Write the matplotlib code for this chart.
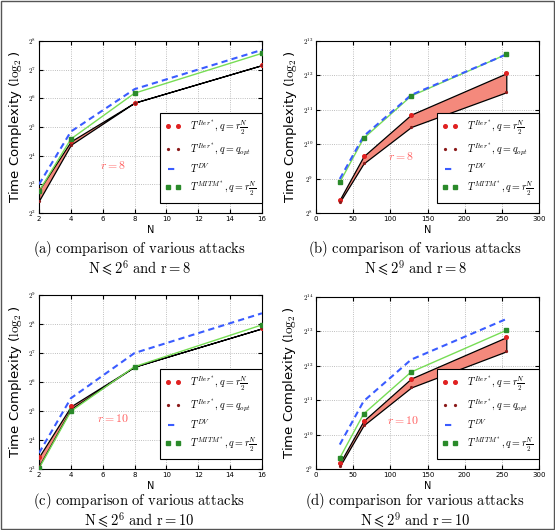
import numpy as np
import matplotlib
matplotlib.use("Agg")
from matplotlib import pyplot as plt
from matplotlib.patches import Rectangle

plt.rcParams['mathtext.fontset'] = 'cm'

# x values (N)
n_small = [2, 4, 8, 16]
n_large = [32, 64, 128, 256]

# (a) N <= 2^6, r = 8   (values are log2 of time)
a_iter_half = [2.80, 4.50, 5.85, 7.16]
a_iter_opt = [2.43, 4.38, 5.85, 7.16]
a_dv = [3.00, 4.84, 6.32, 7.69]
a_mitm = [2.76, 4.58, 6.18, 7.57]

# (b) N <= 2^9, r = 8
b_iter_half = [8.39, 9.65, 10.86, 12.06]
b_iter_opt = [8.32, 9.44, 10.50, 11.51]
b_dv = [8.99, 10.23, 11.43, 12.61]
b_mitm = [8.89, 10.17, 11.40, 12.61]

# (c) N <= 2^6, r = 10
c_iter_half = [3.42, 5.16, 6.53, 7.85]
c_iter_opt = [3.10, 5.07, 6.53, 7.85]
c_dv = [3.55, 5.44, 7.00, 8.37]
c_mitm = [3.02, 4.99, 6.53, 7.97]

# (d) N <= 2^9, r = 10
d_iter_half = [9.17, 10.40, 11.63, 12.83]
d_iter_opt = [9.08, 10.27, 11.37, 12.42]
d_dv = [9.71, 10.97, 12.18, 13.36]
d_mitm = [9.32, 10.60, 11.82, 13.03]

captions = [
    (r'$\mathrm{(a)\ comparison\ of\ various\ attacks}$', r'$\mathrm{N}\leqslant 2^6\ \mathrm{and}\ \mathrm{r}=8$'),
    (r'$\mathrm{(b)\ comparison\ of\ various\ attacks}$', r'$\mathrm{N}\leqslant 2^9\ \mathrm{and}\ \mathrm{r}=8$'),
    (r'$\mathrm{(c)\ comparison\ of\ various\ attacks}$', r'$\mathrm{N}\leqslant 2^6\ \mathrm{and}\ \mathrm{r}=10$'),
    (r'$\mathrm{(d)\ comparison\ for\ various\ attacks}$', r'$\mathrm{N}\leqslant 2^9\ \mathrm{and}\ \mathrm{r}=10$'),
]

W, H = 555, 530


def panel(rect, x, it_half, it_opt, dv, mitm, ylo, yhi, xlim, xticks, rpos, rtext):
    ax = fig.add_axes([rect[0] / W, 1 - rect[1] / H, rect[2] / W, rect[3] / H])
    ax.fill_between(x, it_opt, it_half, facecolor='#f4897c', edgecolor='k', lw=0.9, zorder=2)
    ax.plot(x, mitm, color='#77dd55', lw=1.0, zorder=3)
    ax.plot(x, dv, '--', color='#3a5cff', lw=1.5, dashes=(3, 2), label=r'$T^{DV}$', zorder=4)
    ax.plot(x, it_half, 'o', color='#e02020', ms=2.6, label=r'$T^{Iter^*},q=r\frac{N}{2}$', zorder=5)
    ax.plot(x, it_opt, '.', color='#8b1a1a', ms=2.6, label=r'$T^{Iter^*},q=q_{opt}$', zorder=5)
    ax.plot(x, mitm, 's', color='#2a8a2a', ms=3, label=r'$T^{MITM^*},q=r\frac{N}{2}$', zorder=5)
    ax.set_xlim(*xlim)
    ax.set_xticks(xticks)
    yt = list(range(ylo, yhi + 1))
    ax.set_ylim(ylo, yhi)
    ax.set_yticks(yt)
    ax.set_yticklabels([r'$2^{%d}$' % k for k in yt])
    ax.tick_params(direction='in', labelsize=5, length=3, pad=2, top=True, right=True)
    ax.grid(True, linestyle=':', color='#aaaaaa', lw=0.6)
    ax.set_xlabel('N', fontsize=7, labelpad=2)
    ax.set_ylabel(r'Time Complexity ($\log_2$)', fontsize=9.5, labelpad=3)
    ax.text(rpos[0], rpos[1], rtext, color='#ff5f5f', fontsize=8.5, ha='center', va='center')
    h, l = ax.get_legend_handles_labels()
    order = [1, 2, 0, 3]
    leg = ax.legend([h[i] for i in order], [l[i] for i in order], loc='lower right',
                    fontsize=7.2, numpoints=2, fancybox=False, edgecolor='k',
                    framealpha=1, borderpad=0.5, labelspacing=0.45, handlelength=1.6,
                    handletextpad=0.9, borderaxespad=0.0, bbox_to_anchor=(1.0, 0.06))
    leg.get_frame().set_linewidth(0.8)
    return ax


fig = plt.figure(figsize=(W / 100, H / 100), dpi=100)

panel((39, 213, 223, 172), n_small, a_iter_half, a_iter_opt, a_dv, a_mitm, 2, 8,
      (2, 16), range(2, 17, 2), (6.65, 3.66), r'$r=8$')
panel((316, 213, 223, 172), n_large, b_iter_half, b_iter_opt, b_dv, b_mitm, 8, 13,
      (0, 300), range(0, 301, 50), (115, 9.65), r'$r=8$')
panel((39, 469, 223, 174), n_small, c_iter_half, c_iter_opt, c_dv, c_mitm, 3, 9,
      (2, 16), range(2, 17, 2), (6.67, 4.73), r'$r=10$')
panel((316, 469, 223, 172), n_large, d_iter_half, d_iter_opt, d_dv, d_mitm, 9, 14,
      (0, 300), range(0, 301, 50), (117, 10.41), r'$r=10$')

cap_x = [139, 415, 139, 415]
cap_y = [249, 249, 501, 501]
for (l1, l2), cx, cy in zip(captions, cap_x, cap_y):
    fig.text(cx / W, 1 - cy / H, l1, ha='center', va='center', fontsize=10.5)
    fig.text(cx / W, 1 - (cy + 19) / H, l2, ha='center', va='center', fontsize=10.5)

fig.patches.append(Rectangle((0.002, 0.002), 0.996, 0.996, transform=fig.transFigure,
                             fill=False, edgecolor='#555555', lw=1.0))

fig.savefig('out.png', dpi=100)
